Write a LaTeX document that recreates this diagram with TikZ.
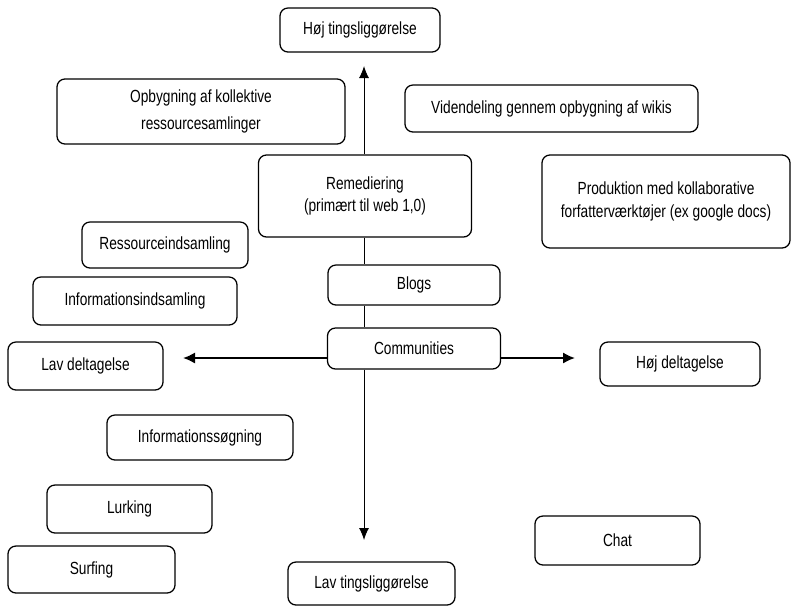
\documentclass[tikz,border=0pt]{standalone}
\usepackage{fontspec}
\setmainfont[FakeStretch=0.78]{Liberation Sans}
\usetikzlibrary{positioning,arrows.meta}

\begin{document}
\begin{tikzpicture}[x=0.025cm, y=-0.025cm,
    box/.style={draw, rounded corners=0.2cm, line width=0.9pt, align=center,
      inner sep=0pt, font=\fontsize{12.5}{16}\selectfont},
    vaxis/.style={line width=0.7pt, -{Latex[length=0.3cm,width=0.25cm]}},
    haxis/.style={line width=1.4pt, -{Latex[length=0.3cm,width=0.28cm]}}]

  \useasboundingbox (0,0) rectangle (793,607);

  % Boxes along the vertical axis
  \node[box, minimum width=4cm, minimum height=1.1cm] (hojting) at (360,30) {Høj tingsliggørelse};
  \node[box, minimum width=5.325cm, minimum height=2.05cm] (remed) at (365,196) {Remediering\\(primært til web 1,0)};
  \node[box, minimum width=4.3cm, minimum height=1cm] (blogs) at (414,285) {Blogs};
  \node[box, minimum width=4.325cm, minimum height=1.025cm] (comm) at (414,348.5) {Communities};
  \node[box, minimum width=4.175cm, minimum height=1.075cm] (lavting) at (371.5,583.5) {Lav tingsliggørelse};

  % Boxes at the ends of the horizontal axis
  \node[box, minimum width=3.875cm, minimum height=1.2cm] (lavdel) at (85.5,366) {Lav deltagelse};
  \node[box, minimum width=4cm, minimum height=1.1cm] (hojdel) at (680,364) {Høj deltagelse};

  % Activities
  \node[box, minimum width=7.2cm, minimum height=1.625cm, font=\fontsize{12.5}{19}\selectfont] (opbyg) at (201,111.5) {Opbygning af kollektive\\ressourcesamlinger};
  \node[box, minimum width=7.325cm, minimum height=1.175cm] (viden) at (551.5,108.5) {Videndeling gennem opbygning af wikis};
  \node[box, minimum width=6.2cm, minimum height=2.325cm] (prod) at (666,201.5) {Produktion med kollaborative\\forfatterværktøjer (ex google docs)};
  \node[box, minimum width=4.15cm, minimum height=1.15cm] (ressource) at (165,245) {Ressourceindsamling};
  \node[box, minimum width=5.1cm, minimum height=1.2cm] (infoind) at (135,301) {Informationsindsamling};
  \node[box, minimum width=4.65cm, minimum height=1.125cm] (infosog) at (200,437.5) {Informationssøgning};
  \node[box, minimum width=4.125cm, minimum height=1.2cm] (lurk) at (129.5,509) {Lurking};
  \node[box, minimum width=4.175cm, minimum height=1.175cm] (surf) at (91.5,569.5) {Surfing};
  \node[box, minimum width=4.125cm, minimum height=1.225cm] (chat) at (617.5,540.5) {Chat};

  % Free ends of the axes
  \coordinate (top) at (364,66);
  \coordinate (bottom) at (364,540);
  \coordinate (left) at (183,358);
  \coordinate (right) at (575,358);

  % Vertical axis
  \draw[vaxis] (remed.north -| top) -- (top);
  \draw[line width=0.7pt] (remed.south -| top) -- (blogs.north -| top);
  \draw[line width=0.7pt] (blogs.south -| top) -- (comm.north -| top);
  \draw[vaxis] (comm.south -| top) -- (bottom);

  % Horizontal axis
  \draw[haxis] (left -| comm.west) -- (left);
  \draw[haxis] (right -| comm.east) -- (right);

\end{tikzpicture}
\end{document}
